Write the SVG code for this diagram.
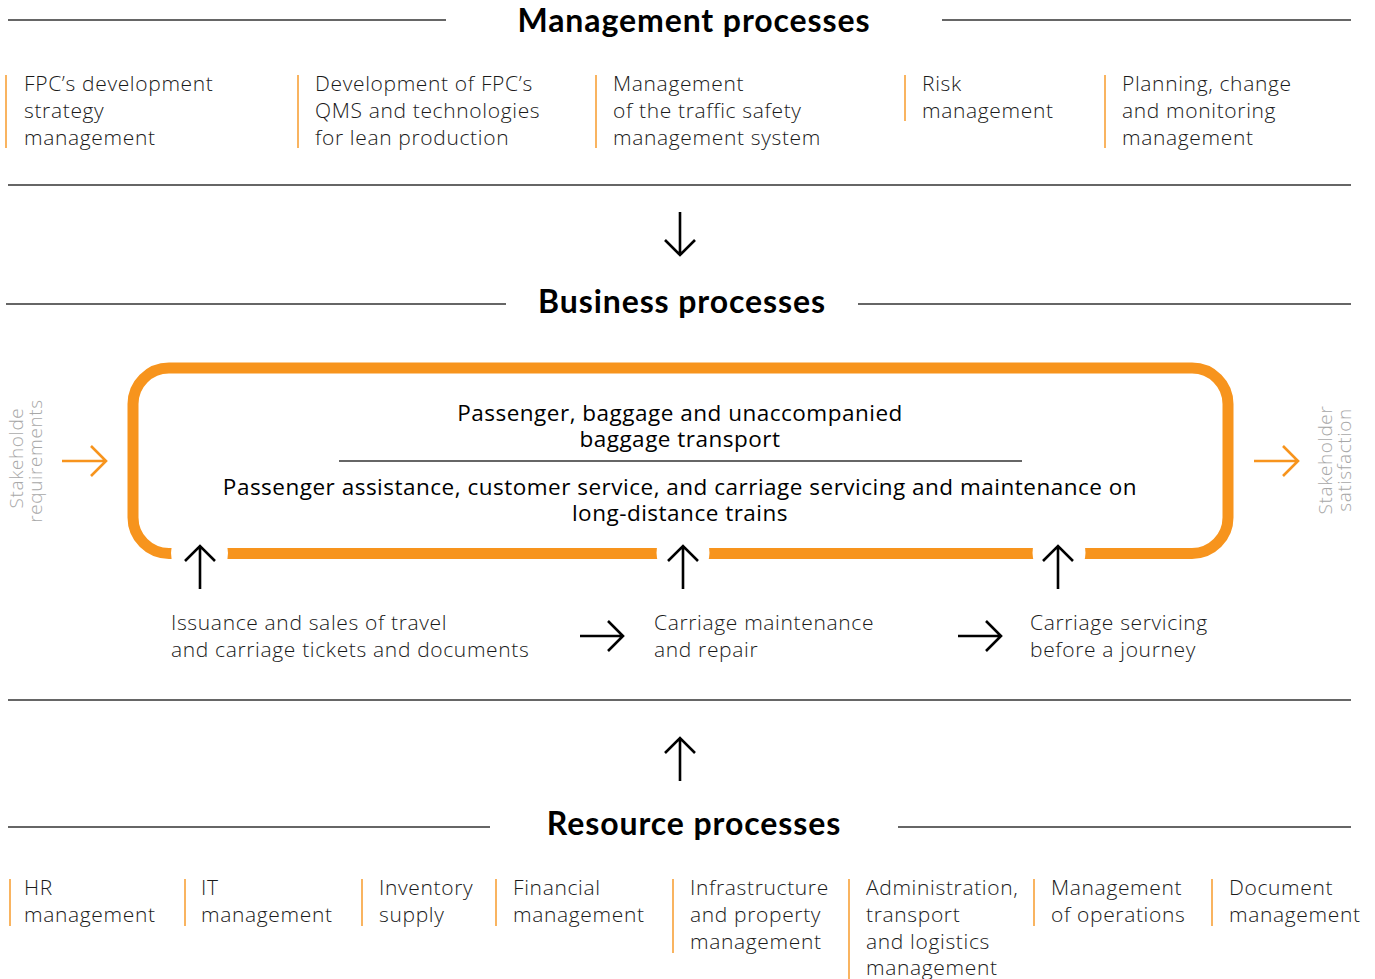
<svg xmlns="http://www.w3.org/2000/svg" width="1375" height="979" viewBox="0 0 1375 979">
  <style>
    .rule { stroke: #333333; stroke-width: 1.6; fill: none; }
    .sep { stroke: #F7941D; stroke-width: 1.4; }
    .title { font-family: "Lato", "Liberation Sans", sans-serif; font-weight: 700; font-size: 32px; letter-spacing: 0.9px; fill: #000; text-anchor: middle; }
    .item { font-family: "Open Sans", "Liberation Sans", sans-serif; font-weight: 300; font-size: 21px; letter-spacing: 0.65px; fill: #1a1a1a; }
    .core { font-family: "Open Sans", "Liberation Sans", sans-serif; font-weight: 400; font-size: 22.5px; letter-spacing: 0.5px; fill: #000; text-anchor: middle; }
    .side { font-family: "Open Sans", "Liberation Sans", sans-serif; font-weight: 300; font-size: 19px; letter-spacing: 0.6px; fill: #a8a8a8; text-anchor: middle; }
    .arrow { stroke: #000; stroke-width: 2.6; fill: none; }
    .oarrow { stroke: #F7941D; stroke-width: 2.6; fill: none; }
  </style>

  <!-- Section rules -->
  <g id="rules">
    <line class="rule" x1="8" y1="20" x2="446" y2="20"/>
    <line class="rule" x1="942" y1="20" x2="1351" y2="20"/>
    <line class="rule" x1="8" y1="185" x2="1351" y2="185"/>
    <line class="rule" x1="6" y1="304" x2="506" y2="304"/>
    <line class="rule" x1="858" y1="304" x2="1351" y2="304"/>
    <line class="rule" x1="8" y1="700" x2="1351" y2="700"/>
    <line class="rule" x1="8" y1="827" x2="490" y2="827"/>
    <line class="rule" x1="898" y1="827" x2="1351" y2="827"/>
  </g>

  <!-- Section titles -->
  <g id="titles">
    <text class="title" x="694" y="32">Management processes</text>
    <text class="title" x="682" y="313">Business processes</text>
    <text class="title" x="694" y="835">Resource processes</text>
  </g>

  <!-- Management processes -->
  <g id="mgmt-strategy">
    <line class="sep" x1="6" y1="75" x2="6" y2="148"/>
    <text class="item" x="24" y="91">FPC’s development<tspan x="24" dy="27">strategy</tspan><tspan x="24" dy="27">management</tspan></text>
  </g>
  <g id="mgmt-qms">
    <line class="sep" x1="298" y1="75" x2="298" y2="148"/>
    <text class="item" x="315" y="91">Development of FPC’s<tspan x="315" dy="27">QMS and technologies</tspan><tspan x="315" dy="27">for lean production</tspan></text>
  </g>
  <g id="mgmt-safety">
    <line class="sep" x1="596" y1="75" x2="596" y2="148"/>
    <text class="item" x="613" y="91">Management<tspan x="613" dy="27">of the traffic safety</tspan><tspan x="613" dy="27">management system</tspan></text>
  </g>
  <g id="mgmt-risk">
    <line class="sep" x1="905" y1="75" x2="905" y2="121"/>
    <text class="item" x="922" y="91">Risk<tspan x="922" dy="27">management</tspan></text>
  </g>
  <g id="mgmt-planning">
    <line class="sep" x1="1105" y1="75" x2="1105" y2="148"/>
    <text class="item" x="1122" y="91">Planning, change<tspan x="1122" dy="27">and monitoring</tspan><tspan x="1122" dy="27">management</tspan></text>
  </g>

  <!-- Core business process loop -->
  <g id="core-process">
    <rect x="133" y="368" width="1095" height="185.5" rx="36" ry="36" fill="none" stroke="#F7941D" stroke-width="11"/>
    <circle cx="199.5" cy="553" r="28.5" fill="#fff"/>
    <circle cx="683" cy="553" r="26.5" fill="#fff"/>
    <circle cx="1059" cy="553" r="26.5" fill="#fff"/>
    <text class="core" x="680" y="421">Passenger, baggage and unaccompanied</text>
    <text class="core" x="680" y="447">baggage transport</text>
    <line x1="339" y1="461" x2="1022" y2="461" stroke="#333" stroke-width="1.4"/>
    <text class="core" x="680" y="495">Passenger assistance, customer service, and carriage servicing and maintenance on</text>
    <text class="core" x="680" y="521">long-distance trains</text>
  </g>

  <!-- Stakeholder labels -->
  <g id="stakeholder-requirements">
    <text class="side" transform="translate(23 458) rotate(-90)">Stakeholde</text>
    <text class="side" transform="translate(42 461) rotate(-90)">requirements</text>
  </g>
  <g id="stakeholder-satisfaction">
    <text class="side" transform="translate(1332 460) rotate(-90)">Stakeholder</text>
    <text class="side" transform="translate(1351 460) rotate(-90)">satisfaction</text>
  </g>

  <!-- Sub-processes -->
  <g id="sub-tickets">
    <text class="item" x="171" y="630">Issuance and sales of travel<tspan x="171" dy="27">and carriage tickets and documents</tspan></text>
  </g>
  <g id="sub-maintenance">
    <text class="item" x="654" y="630">Carriage maintenance<tspan x="654" dy="27">and repair</tspan></text>
  </g>
  <g id="sub-servicing">
    <text class="item" x="1030" y="630">Carriage servicing<tspan x="1030" dy="27">before a journey</tspan></text>
  </g>

  <!-- Resource processes -->
  <g id="res-hr">
    <line class="sep" x1="10" y1="879" x2="10" y2="926"/>
    <text class="item" x="24" y="895">HR<tspan x="24" dy="27">management</tspan></text>
  </g>
  <g id="res-it">
    <line class="sep" x1="185" y1="879" x2="185" y2="926"/>
    <text class="item" x="201" y="895">IT<tspan x="201" dy="27">management</tspan></text>
  </g>
  <g id="res-inventory">
    <line class="sep" x1="362" y1="879" x2="362" y2="926"/>
    <text class="item" x="379" y="895">Inventory<tspan x="379" dy="27">supply</tspan></text>
  </g>
  <g id="res-financial">
    <line class="sep" x1="496" y1="879" x2="496" y2="926"/>
    <text class="item" x="513" y="895">Financial<tspan x="513" dy="27">management</tspan></text>
  </g>
  <g id="res-infrastructure">
    <line class="sep" x1="673" y1="879" x2="673" y2="953"/>
    <text class="item" x="690" y="895">Infrastructure<tspan x="690" dy="27">and property</tspan><tspan x="690" dy="27">management</tspan></text>
  </g>
  <g id="res-administration">
    <line class="sep" x1="849" y1="879" x2="849" y2="979"/>
    <text class="item" x="866" y="895">Administration,<tspan x="866" dy="27">transport</tspan><tspan x="866" dy="27">and logistics</tspan><tspan x="866" dy="26">management</tspan></text>
  </g>
  <g id="res-operations">
    <line class="sep" x1="1034" y1="879" x2="1034" y2="926"/>
    <text class="item" x="1051" y="895">Management<tspan x="1051" dy="27">of operations</tspan></text>
  </g>
  <g id="res-documents">
    <line class="sep" x1="1212" y1="879" x2="1212" y2="926"/>
    <text class="item" x="1229" y="895">Document<tspan x="1229" dy="27">management</tspan></text>
  </g>

  <!-- Connectors -->
  <g id="connectors">
    <!-- management -> business -->
    <path class="arrow" d="M680 212 V255 M665 240 L680 255 L695 240"/>
    <!-- resources -> business -->
    <path class="arrow" d="M680 781 V738 M665 753 L680 738 L695 753"/>
    <!-- sub-processes -> core loop -->
    <path class="arrow" d="M200 589 V546 M185 561 L200 546 L215 561"/>
    <path class="arrow" d="M683 589 V546 M668 561 L683 546 L698 561"/>
    <path class="arrow" d="M1058 589 V546 M1043 561 L1058 546 L1073 561"/>
    <!-- sub-process sequence -->
    <path class="arrow" d="M580 636 H623 M608 621 L623 636 L608 651"/>
    <path class="arrow" d="M958 636 H1001 M986 621 L1001 636 L986 651"/>
    <!-- stakeholder flow -->
    <path class="oarrow" d="M62 461 H106 M91 446 L106 461 L91 476"/>
    <path class="oarrow" d="M1254 461 H1298 M1283 446 L1298 461 L1283 476"/>
  </g>
</svg>
